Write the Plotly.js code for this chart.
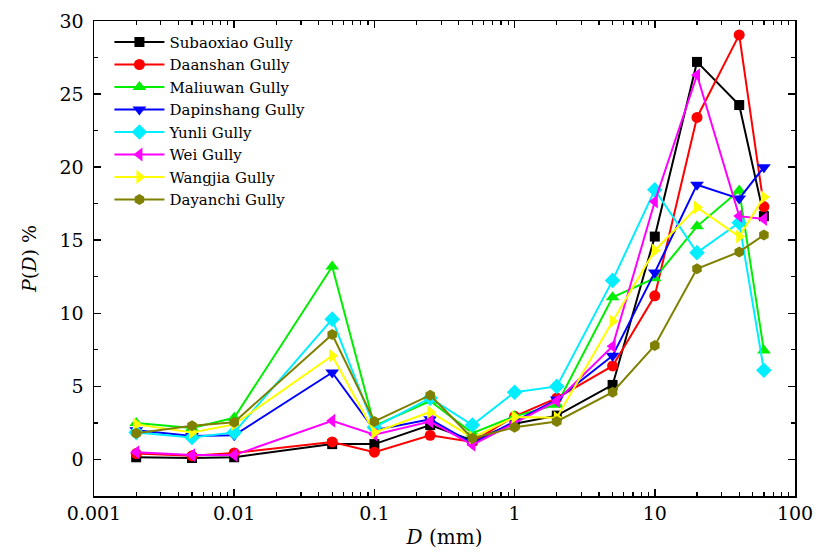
<!DOCTYPE html>
<html>
<head>
<meta charset="utf-8">
<script src="https://cdn.plot.ly/plotly-3.0.1.min.js"></script>
<style>html,body{margin:0;padding:0;background:#fff;}#chart{width:819px;height:557px;}</style>
</head>
<body>
<div id="chart"></div>
<script>
var D = [0.002, 0.005, 0.01, 0.05, 0.1, 0.25, 0.5, 1, 2, 5, 10, 20, 40, 60];

var subaoxiao = [0.15, 0.1, 0.15, 1.05, 1.05, 2.35, 1.3, 2.45, 3.0, 5.1, 15.25, 27.2, 24.25, 16.65];
var daanshan  = [0.4, 0.25, 0.45, 1.2, 0.5, 1.65, 1.2, 2.95, 4.2, 6.4, 11.2, 23.4, 29.05, 17.3];
var maliuwan  = [2.5, 2.15, 2.85, 13.2, 2.3, 4.0, 1.8, 2.95, 3.75, 11.1, 12.4, 15.95, 18.4, 7.45];
var dapinshang = [2.0, 1.6, 1.65, 5.95, 2.0, 2.75, 1.1, 2.6, 4.1, 7.1, 12.8, 18.8, 17.85, 20.0];
var yunli     = [1.85, 1.5, 1.85, 9.6, 2.2, 4.2, 2.35, 4.6, 5.0, 12.25, 18.45, 14.15, 16.2, 6.1];
var wei       = [0.5, 0.3, 0.3, 2.65, 1.7, 2.6, 1.0, 2.5, 4.0, 7.75, 17.65, 26.3, 16.65, 16.45];
var wangjia   = [2.4, 1.85, 2.4, 7.1, 1.85, 3.25, 1.5, 2.9, 2.85, 9.45, 14.3, 17.25, 15.25, 17.95];
var dayanchi  = [1.8, 2.3, 2.55, 8.55, 2.6, 4.4, 1.45, 2.2, 2.6, 4.6, 7.8, 13.05, 14.2, 15.35];

var names = ['Subaoxiao Gully', 'Daanshan Gully', 'Maliuwan Gully', 'Dapinshang Gully',
             'Yunli Gully', 'Wei Gully', 'Wangjia Gully', 'Dayanchi Gully'];
var series = [subaoxiao, daanshan, maliuwan, dapinshang, yunli, wei, wangjia, dayanchi];
var colors = ['#000000', '#ff0000', '#00ee00', '#0000ff', '#00eeff', '#ff00ff', '#ffff00', '#808000'];
var symbols = ['square', 'circle', 'triangle-up', 'triangle-down', 'diamond', 'triangle-left', 'triangle-right', 'hexagon'];
var sizes = [10, 11, 12, 12, 12, 12, 12, 11];

var traces = series.map(function (s, i) {
  return {
    x: D, y: s, name: names[i], type: 'scatter', mode: 'lines+markers',
    line: {color: colors[i], width: 2},
    marker: {color: colors[i], symbol: symbols[i], size: sizes[i], line: {width: 0}}
  };
});

var fontFam = 'DejaVu Serif, Liberation Serif, serif';

var layout = {
  width: 819, height: 557,
  margin: {l: 94, r: 24, t: 21, b: 61},
  paper_bgcolor: '#fff', plot_bgcolor: '#fff',
  font: {family: fontFam, color: '#000', size: 19},
  showlegend: true,
  legend: {
    x: 0.022, y: 0.99, xanchor: 'left', yanchor: 'top',
    bgcolor: 'rgba(0,0,0,0)', borderwidth: 0,
    font: {family: fontFam, size: 15, color: '#000'},
    tracegroupgap: 0, itemwidth: 50
  },
  xaxis: {
    type: 'log', range: [-3, 2],
    tickvals: [0.001, 0.01, 0.1, 1, 10, 100],
    ticktext: ['0.001', '0.01', '0.1', '1', '10', '100'],
    ticks: 'inside', ticklen: 7, tickwidth: 1.5, tickcolor: '#000',
    minor: {ticks: 'inside', ticklen: 4, tickwidth: 1.2, tickcolor: '#000', dtick: 'D1', showgrid: false},
    showline: true, linecolor: '#000', linewidth: 1.5, mirror: 'ticks',
    showgrid: false, zeroline: false,
    tickfont: {family: fontFam, size: 19},
    title: {text: '<i>D</i> (mm)', font: {family: fontFam, size: 20}, standoff: 6}
  },
  yaxis: {
    range: [-2.5, 30],
    tickvals: [0, 5, 10, 15, 20, 25, 30],
    ticks: 'inside', ticklen: 7, tickwidth: 1.5, tickcolor: '#000',
    minor: {ticks: 'inside', ticklen: 4, tickwidth: 1.2, tickcolor: '#000', dtick: 2.5, tick0: 0, showgrid: false},
    showline: true, linecolor: '#000', linewidth: 1.5, mirror: 'ticks',
    showgrid: false, zeroline: false,
    ticklabelstandoff: 5,
    tickfont: {family: fontFam, size: 19},
    title: {text: '<i>P</i>(<i>D</i>) %', font: {family: fontFam, size: 19}, standoff: 18}
  }
};

Plotly.newPlot('chart', traces, layout, {displayModeBar: false, staticPlot: true});
</script>
</body>
</html>
